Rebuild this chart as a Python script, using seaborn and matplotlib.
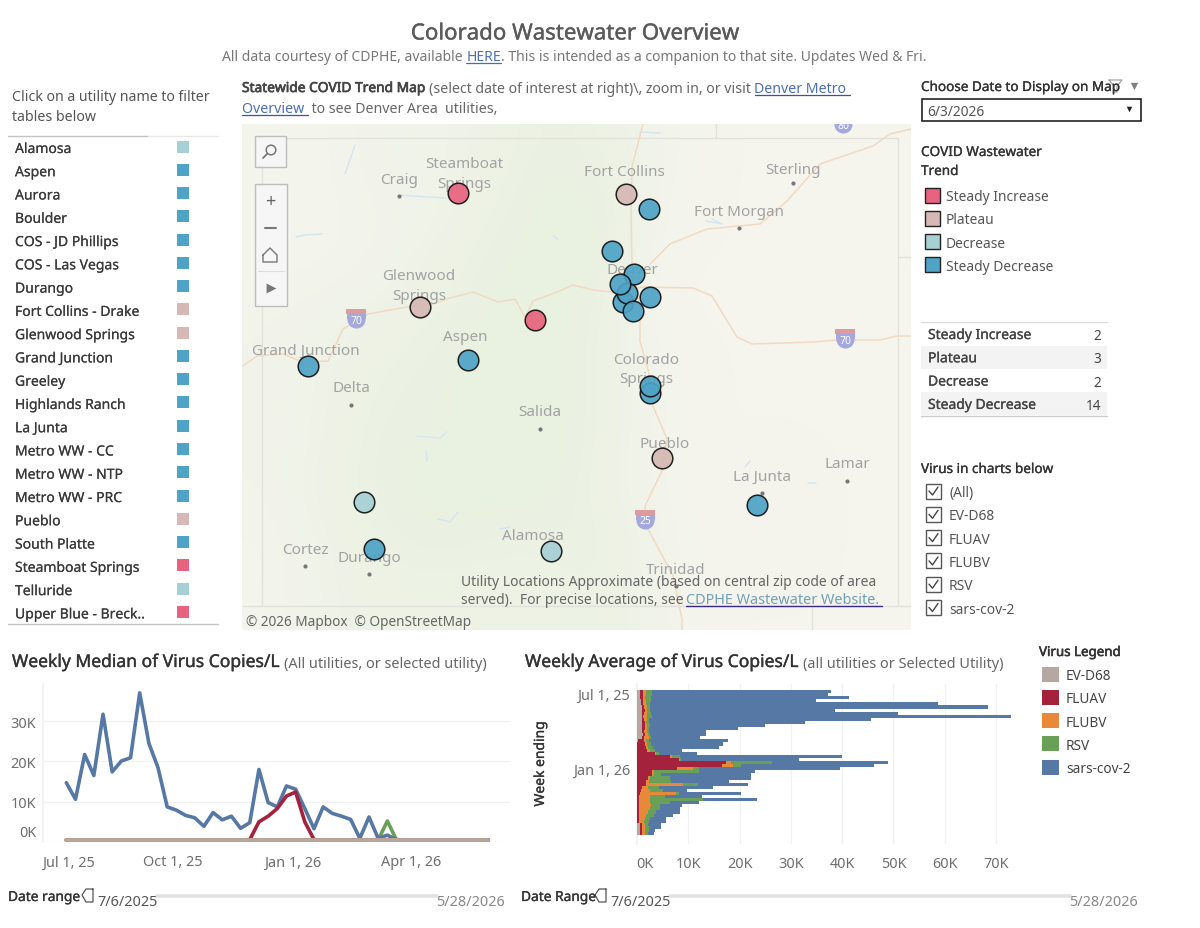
import numpy as np
import pandas as pd
import matplotlib
matplotlib.use("Agg")
import matplotlib.pyplot as plt
import seaborn as sns
from matplotlib.colors import LinearSegmentedColormap
from matplotlib.patches import Rectangle
from matplotlib.patheffects import withStroke
from matplotlib.transforms import ScaledTranslation

sns.set_theme(style="white")
plt.rcParams["font.family"] = ["Noto Sans", "DejaVu Sans"]

W, H = 1200, 929
DARK = "#333333"
GREY = "#6e6e6e"
LINK = "#4a6fb0"

# Utilities table
utilities = ["Alamosa", "Aspen", "Aurora", "Boulder", "COS - JD Phillips", "COS - Las Vegas", "Durango",
             "Fort Collins - Drake", "Glenwood Springs", "Grand Junction", "Greeley", "Highlands Ranch",
             "La Junta", "Metro WW - CC", "Metro WW - NTP", "Metro WW - PRC", "Pueblo", "South Platte",
             "Steamboat Springs", "Telluride", "Upper Blue - Breck.."]
utility_trend = ["Decrease", "Steady Decrease", "Steady Decrease", "Steady Decrease", "Steady Decrease",
                 "Steady Decrease", "Steady Decrease", "Plateau", "Plateau", "Steady Decrease", "Steady Decrease",
                 "Steady Decrease", "Steady Decrease", "Steady Decrease", "Steady Decrease", "Steady Decrease",
                 "Plateau", "Steady Decrease", "Steady Increase", "Decrease", "Steady Increase"]

trend_names = ["Steady Increase", "Plateau", "Decrease", "Steady Decrease"]
trend_counts = [2, 3, 2, 14]
trend_colors = {"Steady Increase": "#e8637f", "Plateau": "#d6b8b4", "Decrease": "#a6d0d3", "Steady Decrease": "#4ea3c6"}

# Map markers, in map coordinates, drawn in this order
site_x = [458, 535, 626, 420, 662, 364, 551, 468, 308, 649, 612, 623, 627, 634, 620, 650, 633, 650, 650, 757, 374]
site_y = [194, 321, 195, 308, 459, 503, 552, 361, 367, 210, 252, 303, 294, 275, 285, 298, 312, 394, 387, 506, 550]
site_trend = ["Steady Increase", "Steady Increase", "Plateau", "Plateau", "Plateau", "Decrease", "Decrease",
              "Steady Decrease", "Steady Decrease", "Steady Decrease", "Steady Decrease", "Steady Decrease",
              "Steady Decrease", "Steady Decrease", "Steady Decrease", "Steady Decrease", "Steady Decrease",
              "Steady Decrease", "Steady Decrease", "Steady Decrease", "Steady Decrease"]

# Base map
terrain = [[.1, .1, .3, .3, .5, .7, .6, .2, 0, 0, 0, 0],
           [.1, .1, .2, .3, .6, .8, .8, .1, 0, 0, 0, 0],
           [.1, .1, .2, .5, .7, .8, .8, 0, 0, 0, 0, 0],
           [.2, .3, .5, .6, .8, .8, .6, 0, 0, 0, 0, 0],
           [.2, .4, .6, .7, .8, .8, .6, .1, 0, 0, 0, 0],
           [.2, .4, .7, .7, .8, .8, .6, .1, 0, 0, 0, 0],
           [.2, .5, .7, .8, .8, .8, .5, .1, 0, .1, 0, 0],
           [.1, .4, .6, .7, .6, .6, .7, .2, 0, .1, 0, 0],
           [.1, .4, .5, .5, .5, .5, .6, .2, 0, 0, 0, 0]]
i70_x = [243, 257, 283, 303, 328, 343, 368, 407, 433, 450, 473, 498, 515, 525, 533, 557, 573, 593, 613, 643, 693, 712,
         737, 752, 813, 837, 880, 897, 911]
i70_y = [367, 357, 355, 363, 362, 330, 315, 308, 305, 299, 293, 303, 300, 318, 302, 293, 286, 291, 293, 288, 289, 297,
         338, 345, 343, 341, 341, 337, 337]
i25_x = [643, 632, 631, 632, 640, 640, 650, 653, 667, 662, 645, 648, 673, 682, 682]
i25_y = [125, 168, 208, 265, 312, 342, 378, 407, 440, 472, 507, 530, 577, 620, 631]
i76_x = [650, 670, 707, 760, 787, 820, 873, 890, 911]
i76_y = [265, 245, 230, 225, 202, 165, 147, 135, 130]
water = [([345, 352, 355], [175, 155, 146]), ([296, 305, 322], [238, 236, 235]), ([401, 412, 445], [196, 197, 199]),
         ([553, 558], [237, 240]), ([712, 722, 706], [220, 225, 222]), ([417, 440, 447], [437, 439, 433]),
         ([426, 427], [452, 462]), ([438, 450, 458], [520, 523, 513]), ([745, 750], [468, 462]),
         ([808, 816], [484, 484]), ([640, 660], [133, 134]), ([500, 510], [530, 528])]
city_names = ["Steamboat", "Springs", "Craig", "Fort Collins", "Sterling", "Fort Morgan", "Denver", "Glenwood", "Springs",
              "Aspen", "Grand Junction", "Delta", "Salida", "Colorado", "Springs", "Pueblo", "La Junta", "Lamar",
              "Trinidad", "Alamosa", "Cortez", "Durango"]
city_x = [464, 464, 399, 624, 793, 739, 632, 419, 419, 465, 306, 351, 540, 646, 646, 665, 762, 847, 676, 533, 305, 369]
city_y = [163, 183, 179, 171, 169, 211, 269, 275, 295, 336, 350, 388, 412, 359, 378, 444, 476, 464, 569, 536, 549, 557]
dot_x = [399, 793, 739, 351, 540, 762, 847, 676, 305, 369]
dot_y = [197, 184, 229, 406, 430, 494, 482, 587, 567, 575]

# Weekly median, thousands of copies/L, weeks ending
median_weeks = pd.date_range("2025-07-12", periods=47, freq="7D")
median_sars = [14.7, 10.6, 21.7, 16.5, 31.7, 17.4, 20.1, 20.9, 37.0, 24.5, 18.4, 8.7, 7.9, 6.6, 6.0, 3.9, 7.3, 5.5, 6.4,
               3.4, 4.8, 18.0, 9.8, 8.7, 13.9, 13.1, 8.3, 3.3, 8.7, 7.1, 6.4, 5.6, 0.9, 6.2, 0.9, 1.7, 0.6, 0.5, 0.5,
               0.5, 0.5, 0.5, 0.5, 0.5, 0.5, 0.5, 0.5]
median_fluav = [0.5, 0.5, 0.5, 0.5, 0.5, 0.5, 0.5, 0.5, 0.5, 0.5, 0.5, 0.5, 0.5, 0.5, 0.5, 0.5, 0.5, 0.5, 0.5, 0.5, 0.6,
                5.0, 6.4, 8.3, 11.4, 12.4, 5.0, 0.6, 0.5, 0.5, 0.5, 0.5, 0.5, 0.5, 0.5, 0.5, 0.5, 0.5, 0.5, 0.5, 0.5,
                0.5, 0.5, 0.5, 0.5, 0.5, 0.5]
median_rsv = [0.5, 0.5, 0.5, 0.5, 0.5, 0.5, 0.5, 0.5, 0.5, 0.5, 0.5, 0.5, 0.5, 0.5, 0.5, 0.5, 0.5, 0.5, 0.5, 0.5, 0.5,
              0.5, 0.5, 0.5, 0.5, 0.5, 0.5, 0.5, 0.5, 0.5, 0.5, 0.5, 0.5, 0.5, 0.5, 5.2, 0.5, 0.5, 0.5, 0.5, 0.5, 0.5,
              0.5, 0.5, 0.5, 0.5, 0.5]
median_flubv = [0.5, 0.5, 0.5, 0.5, 0.5, 0.5, 0.5, 0.5, 0.5, 0.5, 0.5, 0.5, 0.5, 0.5, 0.5, 0.5, 0.5, 0.5, 0.5, 0.5, 0.5,
                0.5, 0.5, 0.5, 0.5, 0.5, 0.5, 0.5, 0.5, 0.5, 0.5, 0.5, 0.5, 0.5, 0.5, 0.5, 0.5, 0.5, 0.5, 0.5, 0.5, 0.5,
                0.5, 0.5, 0.5, 0.5, 0.5]
median_ev = [0.5, 0.5, 0.5, 0.5, 0.5, 0.5, 0.5, 0.5, 0.5, 0.5, 0.5, 0.5, 0.5, 0.5, 0.5, 0.5, 0.5, 0.5, 0.5, 0.5, 0.5,
             0.5, 0.5, 0.5, 0.5, 0.5, 0.5, 0.5, 0.5, 0.5, 0.5, 0.5, 0.5, 0.5, 0.5, 0.5, 0.5, 0.5, 0.5, 0.5, 0.5, 0.5,
             0.5, 0.5, 0.5, 0.5, 0.5]

# Weekly average, thousands of copies/L, one value per week
avg_ev = [.6, .6, .6, .7, .8, 1.0, 1.0, 1.0, 1.0, .9, .9, 1.0, 1.0, 1.0, 1.1, 1.0, .2, 0, 0, 0, 0, 0, 0, 0, 0, 0, 0, 0,
          0, 0, 0, 0, 0, 0, 0, 0, 0, 0, 0, 0, 0, 0, 0, .5, .5, .5, .5]
avg_fluav = [.6, .6, .5, .5, .3, .4, .5, .4, .2, .5, .6, .5, .6, .4, .4, .4, 1.2, 1.5, 1.7, 2.0, 3.5, 6.4, 8.2, 17.4,
             16.5, 7.7, 2.9, 2.9, 2.2, 1.8, 1.8, 1.0, .8, .6, .4, .4, .4, .3, .3, .3, .3, .3, .3, .4, .4, .4, .4]
avg_flubv = [.5, .5, .5, .5, .7, .5, .4, .6, .8, .5, .3, .4, .3, .5, .7, .9, .4, .5, .4, .5, .3, .4, .1, 1.0, 2.2, 3.3,
             .5, .5, .3, .5, 7.1, 1.2, 1.7, 7.0, 2.2, 2.2, 2.2, 2.4, 2.2, 1.8, 1.5, 1.2, 1.0, .6, .6, .6, .6]
avg_rsv = [1.2, 1.2, 1.1, 1.0, .8, .6, .6, .7, .9, .5, .6, .6, .5, .5, .3, .5, .6, .7, 1.0, 1.0, .5, 1.5, .2, 8.0, 1.5,
           1.0, 8.7, 1.2, 3.9, 4.4, 3.0, 2.0, 2.6, .6, 2.8, 10.3, 3.8, 1.7, 2.0, 1.7, 1.6, 1.0, 1.0, .6, .8, .8, .6]
avg_sars = [34.9, 34.4, 38.7, 32.1, 56.0, 65.9, 36.0, 48.1, 70.1, 43.3, 30.4, 22.5, 17.3, 11.0, 10.9, 9.5, 15.4, 14.1,
            12.9, 5.2, 7.3, 31.7, 23.1, 22.5, 26.0, 27.6, 10.9, 17.7, 15.9, 11.3, 9.8, 10.7, 4.6, 12.1, 7.2, 10.4, 5.6,
            4.3, 3.8, 4.5, 3.7, 3.1, 3.3, 2.5, 2.3, 1.3, 1.2]

virus_names = ["EV-D68", "FLUAV", "FLUBV", "RSV", "sars-cov-2"]
virus_colors = {"EV-D68": "#b5a8a3", "FLUAV": "#a5223c", "FLUBV": "#e8893a", "RSV": "#6a9f58", "sars-cov-2": "#5578a5"}
filter_names = ["(All)", "EV-D68", "FLUAV", "FLUBV", "RSV", "sars-cov-2"]

median_df = pd.DataFrame({"week": median_weeks, "EV-D68": median_ev, "FLUAV": median_fluav, "FLUBV": median_flubv,
                          "RSV": median_rsv, "sars-cov-2": median_sars})
median_df = median_df.melt("week", var_name="virus", value_name="copies_k")
avg_df = pd.DataFrame({"week_no": np.arange(47), "EV-D68": avg_ev, "FLUAV": avg_fluav, "FLUBV": avg_flubv,
                       "RSV": avg_rsv, "sars-cov-2": avg_sars})
avg_df = avg_df.melt("week_no", var_name="virus", value_name="copies_k")


def px_axes(left, top, right, bottom, **kw):
    return fig.add_axes([left / W, 1 - bottom / H, (right - left) / W, (bottom - top) / H], **kw)


def heavy(color, amount=0.2):
    # Noto Sans has only one weight here, so thicken it a bit
    return dict(color=color, path_effects=[withStroke(linewidth=amount, foreground=color)])


def label(x, y, s, **kw):
    return page.text(x, y + 1.5, s, va="center", **kw)


def runs(x, y, parts):
    # mixed style text on one baseline, optional underline
    rend = fig.canvas.get_renderer()
    for s, kw in parts:
        kw = dict(kw)
        line = kw.pop("underline", None)
        t = page.text(x, y, s + "|", va="baseline", ha="left", **kw)
        w1 = t.get_window_extent(rend).width
        t.set_text("|")
        w2 = t.get_window_extent(rend).width
        t.set_text(s)
        if line:
            page.plot([x, x + w1 - w2], [y + 3, y + 3], color=line, lw=0.9)
        x += w1 - w2
    return x


fig = plt.figure(figsize=(W / 100, H / 100), dpi=100, facecolor="white")
page = px_axes(0, 0, W, H)
page.set_xlim(0, W)
page.set_ylim(H - 1, -1)
page.axis("off")

# Header
label(575, 32.5, "Colorado Wastewater Overview", ha="center", fontsize=16, **heavy("#5a5a5a", 0.25))
sub = dict(fontsize=10.05, color="#777777")
runs(222, 60, [("All data courtesy of CDPHE, available ", sub),
               ("HERE", dict(fontsize=10.05, color=LINK, underline=LINK)),
               (". This is intended as a companion to that site. Updates Wed & Fri.", sub)])

# Utility list
label(12, 95, "Click on a utility name to filter", fontsize=10.2, color="#555555")
label(12, 115, "tables below", fontsize=10.2, color="#555555")
page.plot([8, 148], [135.5, 135.5], color="#c4c4c4", lw=1)
page.plot([148, 218], [135.5, 135.5], color="#e8e8e8", lw=1)
page.plot([8, 218], [624, 624], color="#c4c4c4", lw=1)
for i, (name, trend) in enumerate(zip(utilities, utility_trend)):
    yy = 148 + 23.27 * i
    label(15, yy, name, fontsize=10.05, **heavy("#3a3a3a", 0.1))
    page.add_patch(Rectangle((177, yy - 7.5), 12, 12, color=trend_colors[trend], lw=0))

# Map heading
bold = dict(fontsize=9.9, **heavy("#444444", 0.5))
norm = dict(fontsize=10.2, color="#666666")
link = dict(fontsize=10.2, color=LINK, underline="#3b4fb0")
runs(242, 92, [("Statewide COVID Trend Map ", bold), ("(select date of interest at right)\\, zoom in, or visit ", norm),
               ("Denver Metro ", link)])
runs(242, 112, [("Overview ", link), (" to see Denver Area  utilities,", norm)])

# Map
mp = px_axes(242, 125, 911, 631)
land = LinearSegmentedColormap.from_list("land", ["#f5f5ee", "#e6f0dd"])
mp.imshow(terrain, cmap=land, vmin=0, vmax=1, extent=(242, 911, 631, 125), aspect="auto", interpolation="bicubic")
for bx, by in [([262, 898, 898], [139, 139, 607]), ([262, 262], [139, 607]), ([243, 911], [607, 607]),
               ([716, 716], [125, 139]), ([898, 911], [258, 258]), ([812, 812], [607, 631])]:
    mp.plot(bx, by, color="#e2e2dc", lw=1)
for wx, wy in water:
    mp.plot(wx, wy, color="#d6e6f0", lw=1.1)
for rx, ry in [(i70_x, i70_y), (i25_x, i25_y), (i76_x, i76_y)]:
    mp.plot(rx, ry, color="#f1d9c3", lw=1.1)
for sx, sy, lab in [(356, 319, "70"), (845, 339, "70"), (645, 520, "25"), (843, 124, "80")]:
    mp.scatter([sx], [sy + 1], marker="o", s=170, color="#a4a8dc", lw=0, zorder=3)
    mp.add_patch(Rectangle((sx - 9.5, sy - 5), 19, 6, color="#a4a8dc", lw=0, zorder=3))
    mp.add_patch(Rectangle((sx - 10, sy - 9), 20, 5, color="#dd9a9f", lw=0, zorder=3))
    mp.text(sx, sy + 2, lab, ha="center", va="center", fontsize=7.5, color="white", fontweight="bold", zorder=4)
mp.scatter(dot_x, dot_y, s=9, color="#77777a", lw=0, zorder=3)
for name, cx, cy in zip(city_names, city_x, city_y):
    mp.text(cx, cy + 1, name, ha="center", va="center", fontsize=11, color="#a2a2a2", zorder=3)
sites = pd.DataFrame({"x": site_x, "y": site_y, "trend": site_trend})
for k in range(len(sites)):
    sns.scatterplot(data=sites.iloc[[k]], x="x", y="y", hue="trend", palette=trend_colors, s=220, alpha=0.92,
                    edgecolor="#111111", linewidth=1.1, legend=False, ax=mp, zorder=5)
mp.set_xlim(242, 911)
mp.set_ylim(631, 125)
mp.set_xlabel("")
mp.set_ylabel("")
mp.set_xticks([])
mp.set_yticks([])
for sp in mp.spines.values():
    sp.set_visible(False)

# Map controls
mp.add_patch(Rectangle((255, 137), 31, 31, fc="#f6f6f6", ec="#bdbdbd", lw=1, zorder=6))
mp.add_patch(Rectangle((255, 185), 32, 122, fc="#f6f6f6", ec="#bdbdbd", lw=1, zorder=6))
mp.scatter([271], [151], s=48, fc="none", ec="#777777", lw=1.1, zorder=7)
mp.plot([267, 263], [155, 159], color="#777777", lw=1.3, zorder=7)
mp.text(270, 202, "+", ha="center", va="center", fontsize=13, color="#666666", zorder=7)
mp.plot([265, 276], [229, 229], color="#777777", lw=1.5, zorder=7)
mp.plot([263, 270, 277, 277, 263, 263], [256, 249, 256, 263, 263, 256], color="#777777", lw=1, zorder=7)
mp.plot([258, 284], [272, 272], color="#dddddd", lw=0.8, zorder=7)
mp.scatter([271], [289], marker=">", s=50, color="#777777", lw=0, zorder=7)
note = dict(fontsize=10, color="#666666", zorder=8)
mp.text(461, 582, "Utility Locations Approximate (based on central zip code of area", va="center", **note)
mp.text(461, 601, "served).  For precise locations, see", va="center", **note)
mp.text(686, 601, "CDPHE Wastewater Website.", va="center", fontsize=10.4, color="#6fa0b4", zorder=8)
mp.plot([686, 882], [606.5, 606.5], color="#3a2a8a", lw=1, zorder=8)
mp.text(246, 623, "© 2026 Mapbox  © OpenStreetMap", va="center", fontsize=9.8, color="#666666", zorder=8)

# Right column controls
label(921, 86, "Choose Date to Display on Map", fontsize=9.75, **heavy(DARK))
page.plot([1109, 1122, 1117, 1117, 1114, 1114, 1109], [80, 80, 86, 92, 92, 86, 80], color="#999999", lw=0.8)
page.scatter([1134], [86], marker="v", s=28, color="#808080", lw=0)
page.add_patch(Rectangle((922, 99), 219, 22, fc="white", ec="#222222", lw=1.2))
label(927, 109.5, "6/3/2026", fontsize=9.95, color="#555555")
page.scatter([1129], [109], marker="v", s=16, color="#222222", lw=0)

label(921, 151, "COVID Wastewater", fontsize=9.75, **heavy(DARK))
label(921, 170, "Trend", fontsize=9.75, **heavy(DARK))
for i, name in enumerate(trend_names):
    yy = 195 + 23.3 * i
    page.add_patch(Rectangle((925, yy - 7.5), 15, 15, fc=trend_colors[name], ec="#222222", lw=1))
    label(946, yy, name, fontsize=9.95, color="#555555")

# Trend counts table
page.plot([921, 1107], [322, 322], color="#dddddd", lw=1)
page.plot([921, 1107], [416, 416], color="#cccccc", lw=1)
for i, (name, n) in enumerate(zip(trend_names, trend_counts)):
    yy = 334 + 23.3 * i
    if i % 2:
        page.add_patch(Rectangle((921, yy - 11.5), 186, 23, color="#f3f3f3", lw=0))
    label(928, yy, name, fontsize=10, **heavy("#444444"))
    label(1101, yy, str(n), ha="right", fontsize=9.8, color="#444444")

# Virus filter
label(921, 468, "Virus in charts below", fontsize=9.75, **heavy(DARK))
for i, name in enumerate(filter_names):
    yy = 491 + 23.3 * i
    page.add_patch(Rectangle((926, yy - 7.5), 15, 15, fc="white", ec="#555555", lw=1))
    page.plot([929, 932.5, 938], [yy, yy + 4, yy - 4], color="#444444", lw=1)
    label(949, yy, name, fontsize=9.95, color="#555555")

# Weekly median line chart
big = dict(fontsize=12.6, **heavy(DARK, 0.25))
small = dict(fontsize=10.45, color="#666666")
runs(12, 667, [("Weekly Median of Virus Copies/L ", big), ("(All utilities, or selected utility)", small)])
ax1 = px_axes(43, 685, 510, 843, facecolor="none")
sns.lineplot(data=median_df, x="week", y="copies_k", hue="virus",
             hue_order=["RSV", "sars-cov-2", "FLUAV", "FLUBV", "EV-D68"], palette=virus_colors, linewidth=2.6,
             legend=False, solid_capstyle="round", ax=ax1, zorder=3)
origin = pd.Timestamp("2026-01-01")
ax1.set_xlim(origin - pd.Timedelta(days=190.8), origin + pd.Timedelta(days=165.6))
ax1.set_ylim(0, 39.2)
ax1.set_xticks(pd.to_datetime(["2025-07-01", "2025-10-01", "2026-01-01", "2026-04-01"]))
ax1.set_xticklabels(["Jul 1, 25", "Oct 1, 25", "Jan 1, 26", "Apr 1, 26"])
ax1.set_yticks([0, 10, 20, 30])
ax1.set_yticklabels(["0K", "10K", "20K", "30K"])
ax1.set_xlabel("")
ax1.set_ylabel("")
ax1.tick_params(length=0, labelsize=10.4, labelcolor=GREY, pad=5)
ax1.tick_params(axis="x", pad=9)
ax1.grid(axis="y", color="#f1f1f1", lw=0.9)
sns.despine(ax=ax1, top=True, right=True, bottom=True, left=False)
ax1.spines["left"].set_color("#f1f1f1")
zero_lab = ax1.get_yticklabels()[0]
zero_lab.set_transform(zero_lab.get_transform() + ScaledTranslation(0, 11 / 100, fig.dpi_scale_trans))
jul_lab = ax1.get_xticklabels()[0]
jul_lab.set_transform(jul_lab.get_transform() + ScaledTranslation(17 / 100, 0, fig.dpi_scale_trans))

# Weekly average stacked bars
runs(525, 667, [("Weekly Average of Virus Copies/L ", big), ("(all utilities or Selected Utility)", small)])
ax2 = px_axes(637, 685, 1032, 845, facecolor="none")
sns.histplot(data=avg_df, y="week_no", weights="copies_k", hue="virus", hue_order=virus_names[::-1], palette=virus_colors,
             multiple="stack", discrete=True, shrink=1, alpha=1, linewidth=0, legend=False, ax=ax2, zorder=3)
ax2.set_xlim(0, 77)
ax2.set_ylim(49.35, -2.43)
ax2.set_xticks([0, 10, 20, 30, 40, 50, 60, 70])
ax2.set_xticklabels(["0K", "10K", "20K", "30K", "40K", "50K", "60K", "70K"])
week_ticks = [(pd.Timestamp(d) - median_weeks[0]).days / 7 for d in ["2025-07-01", "2026-01-01"]]
ax2.set_yticks(week_ticks)
ax2.set_yticklabels(["Jul 1, 25", "Jan 1, 26"])
ax2.set_xlabel("")
ax2.set_ylabel("Week ending", fontsize=10, **heavy(DARK))
ax2.yaxis.set_label_coords((548 - 637) / 395, (845 - 765) / 160)
ax2.tick_params(length=0, labelsize=10.4, labelcolor=GREY, pad=5)
ax2.tick_params(axis="x", pad=9)
ax2.grid(axis="x", color="#f1f1f1", lw=0.9)
sns.despine(ax=ax2, top=True, right=True, bottom=True, left=False)
ax2.spines["left"].set_color("#f1f1f1")
jul_lab2 = ax2.get_yticklabels()[0]
jul_lab2.set_transform(jul_lab2.get_transform() + ScaledTranslation(0, -6.5 / 100, fig.dpi_scale_trans))
zero_lab2 = ax2.get_xticklabels()[0]
zero_lab2.set_transform(zero_lab2.get_transform() + ScaledTranslation(8 / 100, 0, fig.dpi_scale_trans))

# Virus legend
label(1039, 651, "Virus Legend", fontsize=9.6, **heavy(DARK, 0.4))
for i, name in enumerate(virus_names):
    yy = 674 + 23.3 * i
    page.add_patch(Rectangle((1042, yy - 7.5), 17, 15, color=virus_colors[name], lw=0))
    label(1066, yy, name, fontsize=9.8, color="#444444")

# Date range sliders
for dx, name, bar_start, bar_end in [(0, "Date range", 157, 437), (513, "Date Range", 670, 1070)]:
    label(8 + dx, 896, name, fontsize=9.9, **heavy(DARK))
    page.plot([bar_start, bar_end], [896, 896], color="#e2e2e2", lw=2.6, solid_capstyle="round")
    page.plot(np.array([93, 86, 82, 86, 93, 93]) + dx, [889, 889, 895, 902, 902, 889], color="#555555", lw=0.9)
    label(97 + dx, 900, "7/6/2025", fontsize=10.4, color="#555555")
    label(505 + dx if dx == 0 else 1138, 900, "5/28/2026", ha="right", fontsize=10.4, color="#888888")

fig.savefig("out.png", dpi=100)
